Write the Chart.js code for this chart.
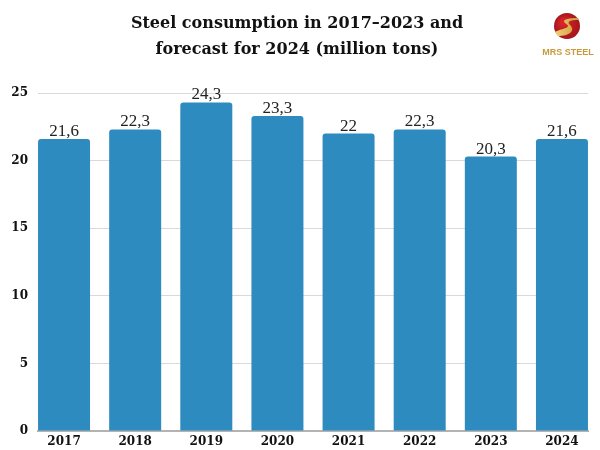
<!DOCTYPE html>
<html>
<head>
<meta charset="utf-8">
<script src="https://cdn.jsdelivr.net/npm/chart.js@4"></script>
<style>
html,body{margin:0;padding:0;background:#fff;}
#wrap{position:relative;width:600px;height:450px;}
</style>
</head>
<body>
<div id="wrap"><canvas id="c" width="600" height="450"></canvas></div>
<script>
const years = ["2017","2018","2019","2020","2021","2022","2023","2024"];
const consumption = [21.6, 22.3, 24.3, 23.3, 22, 22.3, 20.3, 21.6];
const yTicks = [0, 5, 10, 15, 20, 25];
const titleLines = ["Steel consumption in 2017–2023 and", "forecast for 2024 (million tons)"];
const logoText = "MRS STEEL";

const serif = "'DejaVu Serif', serif";

const titleLogoPlugin = {
  id: 'titleLogo',
  afterDraw(chart) {
    const ctx = chart.ctx;
    ctx.save();
    ctx.fillStyle = '#111';
    ctx.font = "bold 16px " + serif;
    ctx.textAlign = 'center';
    ctx.textBaseline = 'alphabetic';
    ctx.fillText(titleLines[0], 297, 28);
    ctx.fillText(titleLines[1], 297, 54);
    // logo
    const cx = 567, cy = 26, r = 13;
    const g = ctx.createRadialGradient(cx - 4, cy - 4, 2, cx, cy, r);
    g.addColorStop(0, '#d8252a');
    g.addColorStop(1, '#a3151b');
    ctx.fillStyle = g;
    ctx.beginPath(); ctx.arc(cx, cy, r, 0, Math.PI * 2); ctx.fill();
    const gg = ctx.createLinearGradient(cx - r, cy, cx + r, cy);
    gg.addColorStop(0, '#f3d27a');
    gg.addColorStop(1, '#c8962e');
    ctx.fillStyle = gg;
    ctx.beginPath();
    ctx.moveTo(cx - r + 1, cy + 6);
    ctx.bezierCurveTo(cx - 4, cy + 2, cx + 6, cy + 2, cx - 2, cy - 3);
    ctx.bezierCurveTo(cx - 6, cy - 7, cx + 4, cy - 8, cx + 11, cy - 8);
    ctx.lineTo(cx + 12, cy - 6);
    ctx.bezierCurveTo(cx + 4, cy - 6, cx - 1, cy - 5, cx + 3, cy - 1);
    ctx.bezierCurveTo(cx + 9, cy + 5, cx + 2, cy + 10, cx - 9, cy + 10);
    ctx.closePath();
    ctx.fill();
    ctx.font = "bold 9px 'Liberation Sans', sans-serif";
    ctx.fillStyle = '#c99a3c';
    ctx.fillText(logoText, 568, 55);
    ctx.restore();
  }
};

const valueLabelPlugin = {
  id: 'valueLabels',
  afterDatasetsDraw(chart) {
    const ctx = chart.ctx;
    const meta = chart.getDatasetMeta(0);
    ctx.save();
    ctx.font = "17px 'Liberation Serif', serif";
    ctx.fillStyle = '#222';
    ctx.textAlign = 'center';
    ctx.textBaseline = 'bottom';
    meta.data.forEach((bar, i) => {
      const txt = String(consumption[i]).replace('.', ',');
      ctx.fillText(txt, bar.x, bar.y + 1);
    });
    ctx.restore();
  }
};

new Chart(document.getElementById('c'), {
  type: 'bar',
  data: {
    datasets: [{
      data: consumption.map((v, i) => ({ x: i, y: v })),
      backgroundColor: '#2e8bbf',
      borderRadius: { topLeft: 3, topRight: 3, bottomLeft: 0, bottomRight: 0 },
      borderSkipped: 'bottom',
      categoryPercentage: 0.86,
      barPercentage: 0.85
    }]
  },
  options: {
    responsive: false,
    animation: false,
    layout: { padding: { top: 93, right: 12, left: 0, bottom: 0 } },
    plugins: { legend: { display: false }, tooltip: { enabled: false }, title: { display: false } },
    scales: {
      x: {
        type: 'linear',
        offset: false,
        min: -0.366,
        max: 7.366,
        afterBuildTicks(scale) { scale.ticks = years.map((_, i) => ({ value: i })); },
        grid: { display: false, drawTicks: false, offset: false },
        border: { display: true, color: '#b3b3b3', width: 2 },
        ticks: {
          callback: (v) => years[v],
          color: '#111',
          font: { family: serif, weight: 'bold', size: 12 },
          padding: 4,
          maxRotation: 0,
          autoSkip: false
        },
        afterFit(scale) { scale.height = 19; }
      },
      y: {
        min: 0,
        max: 25,
        afterBuildTicks(scale) { scale.ticks = yTicks.map(v => ({ value: v })); },
        grid: { color: '#d9d9d9', drawTicks: false },
        border: { display: false },
        ticks: {
          color: '#111',
          font: { family: serif, weight: 'bold', size: 12 },
          padding: 10
        },
        afterFit(scale) { scale.width = 38; }
      }
    }
  },
  plugins: [titleLogoPlugin, valueLabelPlugin]
});
</script>
</body>
</html>
